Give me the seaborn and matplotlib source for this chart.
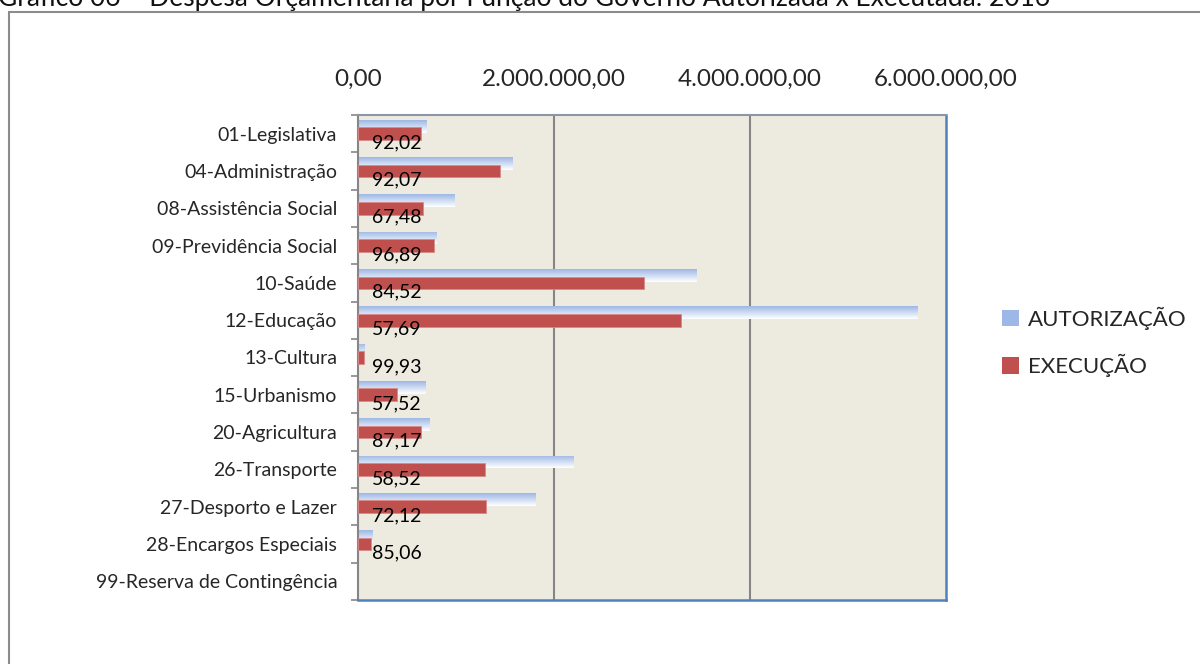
import numpy as np
import pandas as pd
import matplotlib
matplotlib.use('Agg')
import matplotlib.pyplot as plt
import seaborn as sns
from matplotlib.patches import Patch, Rectangle

# --- DATA ---
funcoes = ['01-Legislativa', '04-Administração', '08-Assistência Social',
           '09-Previdência Social', '10-Saúde', '12-Educação', '13-Cultura',
           '15-Urbanismo', '20-Agricultura', '26-Transporte',
           '27-Desporto e Lazer', '28-Encargos Especiais',
           '99-Reserva de Contingência']
autorizacao = [702000, 1577000, 987000, 802000, 3450000, 5713000, 64000,
               690000, 734000, 2203000, 1809000, 152000, 0]
execucao = [642000, 1448000, 662000, 774000, 2917000, 3294000, 63000,
            393000, 642000, 1292000, 1304000, 128000, 0]
percentuais = ['92,02', '92,07', '67,48', '96,89', '84,52', '57,69', '99,93',
               '57,52', '87,17', '58,52', '72,12', '85,06', '']
x_ticks = [0, 2000000, 4000000, 6000000]
x_labels = ['0,00', '2.000.000,00', '4.000.000,00', '6.000.000,00']

COR_AUT = '#9DB8E6'
COR_EXE = '#C0504D'

df = pd.DataFrame({'funcao': funcoes, 'aut': autorizacao, 'exe': execucao})

sns.set_style('white')
plt.rcParams['font.family'] = ['Lato', 'DejaVu Sans']

fig = plt.figure(figsize=(12, 6.64), dpi=100)
ax = fig.add_axes([358 / 1200, 1 - 600 / 664, 588 / 1200, 485 / 664])
ax.set_facecolor('#EDEBE0')

# autorização bars (shifted up afterwards)
sns.barplot(data=df, x='aut', y='funcao', orient='h', color=COR_AUT,
            width=0.34, ax=ax, saturation=1, zorder=2)
aut_patches = list(ax.patches)
for p in aut_patches:
    p.set_y(p.get_y() - 0.2)
    p.set_linewidth(0)

# gradient fill light blue -> white inside each autorização bar
grad = np.linspace(0, 1, 64).reshape(-1, 1)
cmap = matplotlib.colors.LinearSegmentedColormap.from_list('g', [COR_AUT, '#FFFFFF'])
for p in aut_patches:
    w = p.get_width()
    if w <= 0:
        continue
    y0 = p.get_y()
    h = p.get_height()
    im = ax.imshow(grad, cmap=cmap, aspect='auto', extent=[0, w, y0 + h, y0],
                   origin='upper', zorder=2.1, interpolation='bilinear')
    im.set_clip_path(p)

sns.barplot(data=df, x='exe', y='funcao', orient='h', color=COR_EXE,
            width=0.34, ax=ax, saturation=1, zorder=3)
for p in ax.patches[len(aut_patches):]:
    if p.get_width() > 0:
        p.set_edgecolor('#D88A88')
        p.set_linewidth(0.6)
    else:
        p.set_linewidth(0)

ax.set_ylim(12.5, -0.5)
ax.set_xlim(0, 6000000)

# percentage labels
for i, txt in enumerate(percentuais):
    ax.annotate(txt, xy=(0, i + 0.24), xytext=(10, 0), textcoords='offset points',
                ha='left', va='center', fontsize=14, color='black', zorder=5)

# grid
ax.grid(False)
for xv in x_ticks[1:-1]:
    ax.axvline(xv, color='#868686', lw=1.5, zorder=1)

# axes ticks
ax.xaxis.tick_top()
ax.set_xticks(x_ticks)
ax.set_xticklabels(x_labels, fontsize=17.5)
ax.tick_params(axis='x', length=0, pad=18)
ax.set_xlabel('')
ax.set_ylabel('')
ax.set_yticks(range(len(funcoes)))
ax.set_yticklabels(funcoes, fontsize=14)
ax.tick_params(axis='y', length=0, pad=15)
ax.set_yticks(np.arange(-0.5, 13, 1), minor=True)
ax.tick_params(axis='y', which='minor', length=5, width=1.2, color='#868686',
               direction='out', left=True)

for side in ['left', 'top']:
    ax.spines[side].set_color('#8C96A6')
    ax.spines[side].set_linewidth(1.5)
for side in ['right', 'bottom']:
    ax.spines[side].set_color('#4F81BD')
    ax.spines[side].set_linewidth(1.8)
ax.spines['left'].set_color('#868686')

# legend
handles = [Patch(facecolor=COR_AUT, edgecolor='none', label='AUTORIZAÇÃO'),
           Patch(facecolor=COR_EXE, edgecolor='none', label='EXECUÇÃO')]
fig.legend(handles=handles, loc='center left', bbox_to_anchor=(982 / 1200, 1 - 342 / 664),
           frameon=False, fontsize=16, handlelength=0.75, handleheight=0.75,
           handletextpad=0.4, labelspacing=1.1)

# outer chart frame and (cut off) title
fig.patches.append(Rectangle((9 / 1200, -0.05), 1.2, 1 - 12 / 664 + 0.05,
                             transform=fig.transFigure, fill=False,
                             edgecolor='#8C8C8C', lw=1.5, zorder=0))
fig.text(-0.002, 1 - 6 / 664,
         'Gráfico 06 – Despesa Orçamentária por Função do Governo Autorizada x Executada: 2016',
         ha='left', va='baseline', fontsize=19, color='#111111')

fig.savefig('out.png', dpi=100, facecolor='white')
